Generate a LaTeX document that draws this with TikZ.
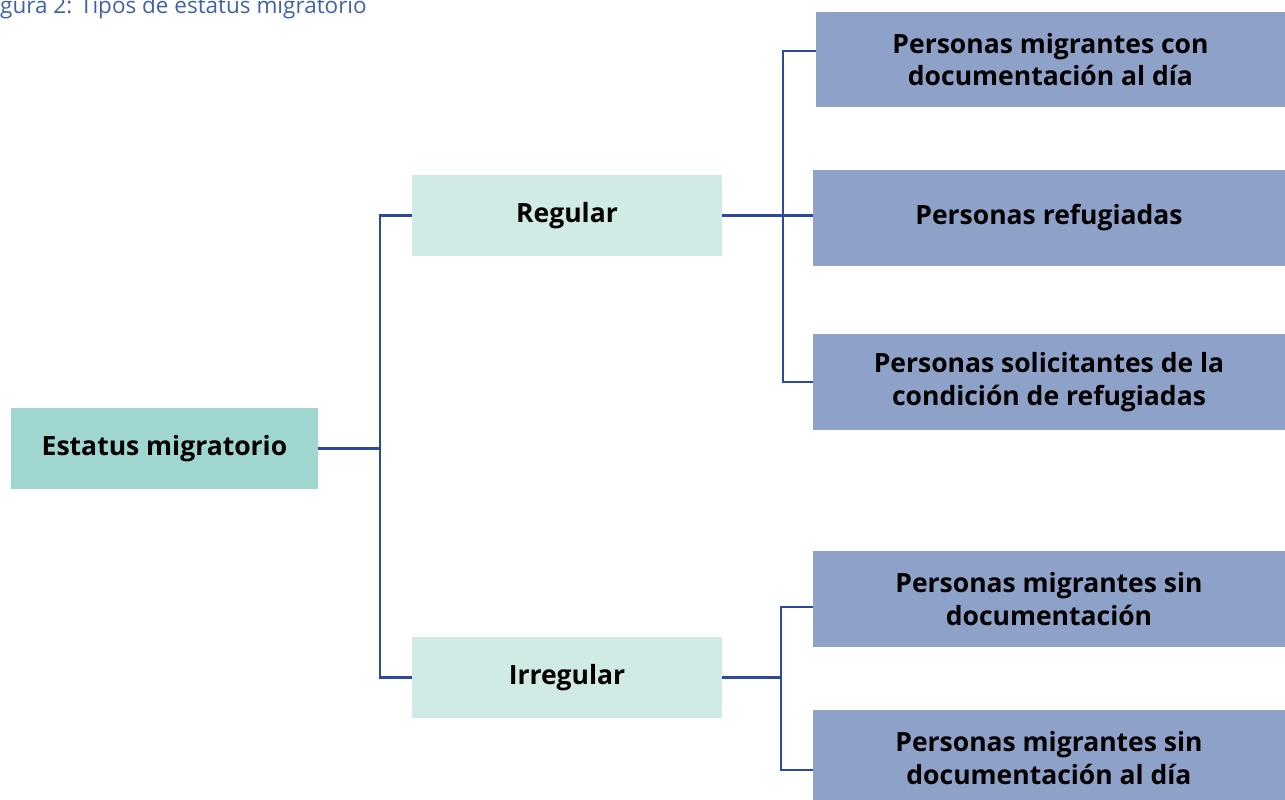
\documentclass[tikz,border=0pt]{standalone}
\usepackage{fontspec}
\setmainfont{Open Sans}
\usetikzlibrary{positioning}
\definecolor{rootfill}{HTML}{9FD6D0}
\definecolor{midfill}{HTML}{D0EAE6}
\definecolor{leaffill}{HTML}{8EA2C9}
\definecolor{linkblue}{HTML}{2B4A9B}
\definecolor{captionblue}{HTML}{4062AA}
\tikzset{%
  box/.style     = {shape=rectangle, inner sep=0pt, outer sep=0pt,%
                    align=center, font=\fontsize{26.5}{32.5}\selectfont\bfseries},%
  rootbox/.style = {box, fill=rootfill, minimum width=307pt, minimum height=81pt},%
  midbox/.style  = {box, fill=midfill, minimum width=310pt, minimum height=81pt},%
  leafbox/.style = {box, fill=leaffill, minimum width=472pt, minimum height=96pt},%
  link/.style    = {draw=linkblue, line width=2.5pt}%
}
\begin{document}
\begin{tikzpicture}[x=1pt, y=-1pt]
  \useasboundingbox (0,0) rectangle (1285,800);
  \clip (0,0) rectangle (1285,800);
  \node[anchor=base west, inner sep=0pt, text=captionblue,
        font=\fontsize{22.5}{26}\selectfont] (caption) at (0,14)
        {gura 2: Tipos de estatus migratorio};
  % boxes
  \node[rootbox] (estatus)   at (164.5,448.5) {Estatus migratorio};
  \node[midbox]  (regular)   at (567,215.5)   {Regular};
  \node[midbox]  (irregular) at (567,677.5)   {Irregular};
  \node[leafbox, minimum width=469pt, minimum height=95pt] (condoc) at (1050.5,59.5)
        {Personas migrantes con\\documentación al día};
  \node[leafbox] (refug)   at (1049,218) {Personas refugiadas};
  \node[leafbox] (solic)   at (1049,382) {Personas solicitantes de la\\condición de refugiadas};
  \node[leafbox] (sindoc)  at (1049,599) {Personas migrantes sin\\documentación};
  \node[leafbox] (sindia)  at (1049,758) {Personas migrantes sin\\documentación al día};
  % connectors
  \draw[link] (estatus.east) -- ++(62,0) coordinate (j1);
  \draw[link] (regular.west) -| (j1) |- (irregular.west);
  \draw[link] (regular.east) -- ++(61,0) coordinate (j2);
  \draw[link] ([yshift=8.5pt]condoc.west) -| (j2) |- (solic.west);
  \draw[link] (j2) -- (j2 -| refug.west);
  \draw[link] (irregular.east) -- ++(59,0) coordinate (j3);
  \draw[link] ([yshift=-8pt]sindoc.west) -| (j3) |- ([yshift=-12pt]sindia.west);
\end{tikzpicture}
\end{document}
